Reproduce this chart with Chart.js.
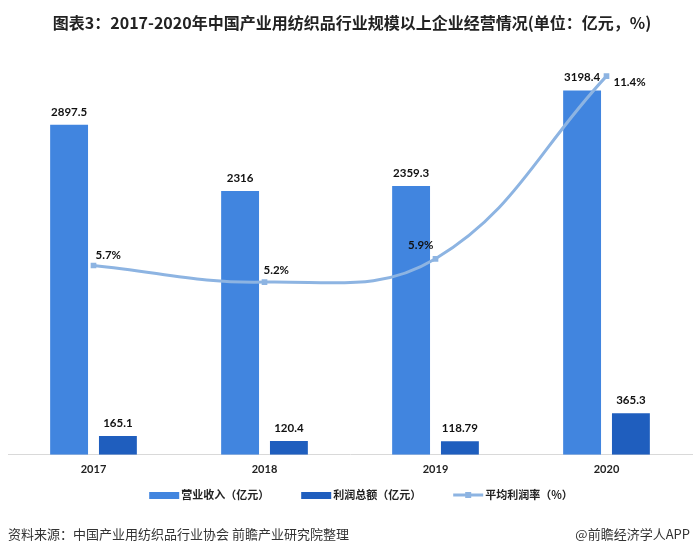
<!DOCTYPE html>
<html>
<head>
<meta charset="utf-8">
<script src="https://cdn.jsdelivr.net/npm/chart.js@4.4.1/dist/chart.umd.min.js"></script>
<style>
    body { margin: 0; background: #fff; }
    #wrap { position: relative; width: 694px; height: 554px; overflow: hidden; }
    .src { position: absolute; top: 524px; font: 13px "Noto Sans CJK SC", sans-serif; color: #333; }
</style>
</head>
<body>
<div id="wrap">
    <canvas id="chart" width="696" height="554"></canvas>
    <div class="src" style="left:8px">资料来源：中国产业用纺织品行业协会 前瞻产业研究院整理</div>
    <div class="src" style="right:4px">@前瞻经济学人APP</div>
</div>
<script>
const years = ['2017', '2018', '2019', '2020'];
const revenue = [2897.5, 2316, 2359.3, 3198.4];
const profit = [165.1, 120.4, 118.79, 365.3];
const margin = [5.7, 5.2, 5.9, 11.4];
const seriesNames = ['营业收入（亿元）', '利润总额（亿元）', '平均利润率（%）'];

const cjk = '"Noto Sans CJK SC", sans-serif';
const num = 'Lato, "Open Sans", sans-serif';
const colors = ['#4185DF', '#1F5EBE', '#8DB4E2'];

// where the % labels sit relative to their point: [dx, dy, align]
const pctPos = [[2, -10, 'left'], [-1, -12, 'left'], [-2, -14, 'right'], [7, 6, 'left']];

const valueLabels = {
    id: 'valueLabels',
    afterDatasetsDraw(chart) {
        const ctx = chart.ctx;
        ctx.save();
        ctx.fillStyle = '#111';
        ctx.font = 'bold 11.5px ' + num;
        ctx.textBaseline = 'middle';
        chart.data.datasets.forEach((ds, di) => {
            chart.getDatasetMeta(di).data.forEach((el, i) => {
                if (ds.type === 'line') {
                    const p = pctPos[i];
                    ctx.textAlign = p[2];
                    ctx.fillText(ds.data[i] + '%', el.x + p[0], el.y + p[1]);
                } else {
                    ctx.textAlign = 'center';
                    ctx.fillText(String(ds.data[i]), el.x, el.y - 13);
                }
            });
        });
        ctx.restore();
    }
};

const bottomLegend = {
    id: 'bottomLegend',
    afterDraw(chart) {
        const ctx = chart.ctx;
        const y = 495, sw = 30, gapTxt = 2, gapItem = 32;
        ctx.save();
        ctx.font = 'bold 11px ' + cjk;
        ctx.textBaseline = 'middle';
        ctx.textAlign = 'left';
        const widths = seriesNames.map(n => ctx.measureText(n).width);
        const total = widths.reduce((a, w) => a + sw + gapTxt + w, 0) + gapItem * (seriesNames.length - 1);
        let x = 361 - total / 2;
        seriesNames.forEach((n, i) => {
            if (i < 2) {
                ctx.fillStyle = colors[i];
                ctx.fillRect(x, y - 3, sw, 7);
            } else {
                ctx.strokeStyle = colors[2];
                ctx.lineWidth = 3;
                ctx.beginPath();
                ctx.moveTo(x, y);
                ctx.lineTo(x + sw, y);
                ctx.stroke();
                ctx.fillStyle = colors[2];
                ctx.fillRect(x + sw / 2 - 3, y - 3, 6, 6);
            }
            ctx.fillStyle = '#222';
            ctx.fillText(n, x + sw + gapTxt, y);
            x += sw + gapTxt + widths[i] + gapItem;
        });
        ctx.restore();
    }
};

new Chart(document.getElementById('chart'), {
    data: {
        labels: years,
        datasets: [
            { type: 'line', label: seriesNames[2], data: margin, yAxisID: 'y2', order: 0,
              borderColor: colors[2], borderWidth: 3, tension: 0.4,
              pointStyle: 'rect', pointRadius: 4, pointBackgroundColor: colors[2], pointBorderWidth: 0 },
            { type: 'bar', label: seriesNames[0], data: revenue, yAxisID: 'y', order: 1,
              backgroundColor: colors[0], categoryPercentage: 0.571, barPercentage: 0.776 },
            { type: 'bar', label: seriesNames[1], data: profit, yAxisID: 'y', order: 1,
              backgroundColor: colors[1], categoryPercentage: 0.571, barPercentage: 0.776 }
        ]
    },
    options: {
        responsive: false,
        animation: false,
        devicePixelRatio: 1,
        layout: { padding: { left: 8, right: 0, top: 0, bottom: 70 } },
        plugins: {
            legend: { display: false },
            tooltip: { enabled: false },
            title: {
                display: true,
                text: '图表3：2017-2020年中国产业用纺织品行业规模以上企业经营情况(单位：亿元，%)',
                font: { size: 16, weight: 'bold', family: cjk },
                color: '#222',
                padding: { top: 13, bottom: 24 }
            }
        },
        scales: {
            x: {
                grid: { display: false, drawTicks: false },
                border: { display: true, color: '#d9d9d9', width: 1 },
                ticks: { font: { size: 11, weight: 'bold', family: num }, color: '#222', padding: 8 }
            },
            y: { display: false, min: 0, max: 3500 },
            y2: { display: false, min: 0, max: 12 }
        }
    },
    plugins: [valueLabels, bottomLegend]
});
</script>
</body>
</html>
